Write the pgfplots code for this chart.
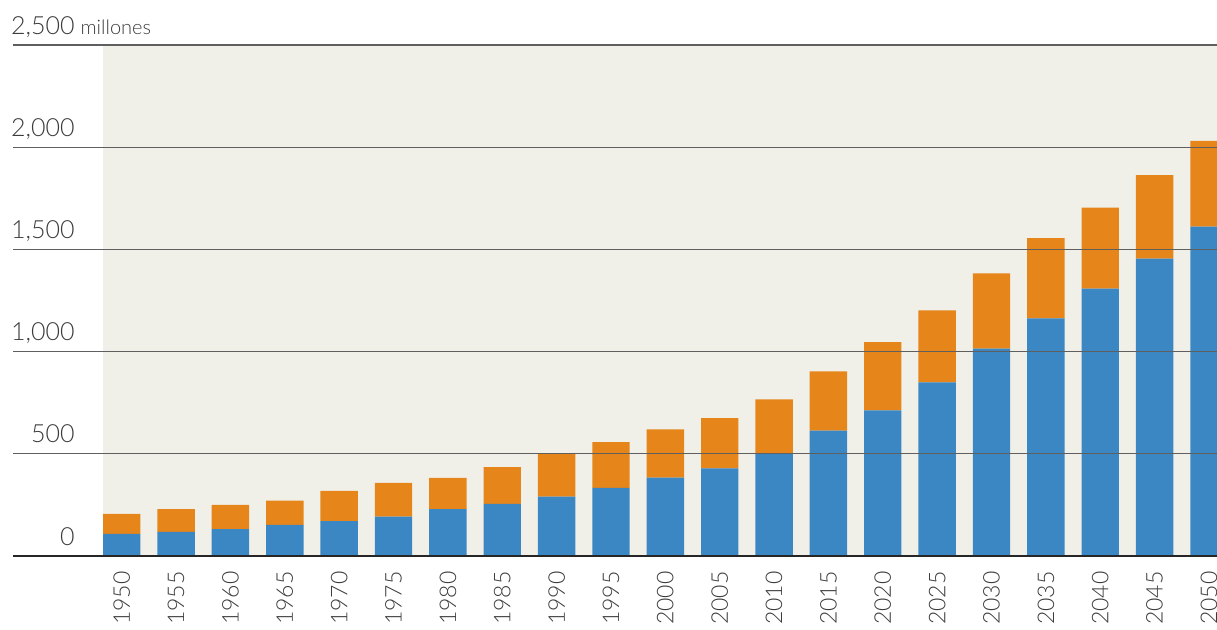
\documentclass[border=0pt]{standalone}
\usepackage{pgfplots}
\pgfplotsset{compat=1.18}
\usepackage{fontspec}
\setmainfont{Lato Light}
\definecolor{beige}{RGB}{241,240,232}
\definecolor{barblue}{RGB}{59,135,196}
\definecolor{barorange}{RGB}{229,133,26}
\definecolor{textgray}{RGB}{60,60,60}
\definecolor{gridgray}{RGB}{95,95,95}
\begin{document}
\begin{tikzpicture}
\useasboundingbox (0,0) rectangle (608.5pt,314.5pt);
\clip (0,0) rectangle (608.5pt,314.5pt);
\fill[beige] (51.5pt,36.5pt) rectangle (608.5pt,292pt);
\begin{axis}[
  at={(6.5pt,36.5pt)}, anchor=south west,
  scale only axis, width=602pt, height=255.5pt,
  xmin=1940, xmax=2050.74, ymin=0, ymax=2500,
  ybar stacked, bar width=3.44,
  axis line style={draw=none},
  major tick length=0pt,
  ytick={500,1000,1500,2000,2500},
  yticklabels={500,{1,000},{1,500},{2,000},{2,500\rlap{\hspace{3pt}\fontsize{10}{10}\selectfont millones}}},
  extra y ticks={0},
  extra y tick labels={0},
  extra y tick style={grid style={draw=black!85, line width=0.8pt}},
  ymajorgrids,
  grid style={draw=gridgray, line width=0.65pt},
  xtick={1950,1955,1960,1965,1970,1975,1980,1985,1990,1995,2000,2005,2010,2015,2020,2025,2030,2035,2040,2045,2050},
  xticklabels={1950,1955,1960,1965,1970,1975,1980,1985,1990,1995,2000,2005,2010,2015,2020,2025,2030,2035,2040,2045,2050},
  xticklabel style={yshift=-7.5pt, rotate=90, anchor=east, inner sep=0pt, font=\fontsize{11.5}{11.5}\selectfont, text=textgray},
  yticklabel style={anchor=base east, inner sep=0pt, xshift=31pt, yshift=5.5pt, font=\fontsize{12.5}{12.5}\selectfont, text=textgray},
  axis on top,
]
\addplot[fill=barblue, draw=none] coordinates {
(1950,108) (1955,118) (1960,131) (1965,152) (1970,171) (1975,193) (1980,229)
(1985,255) (1990,291) (1995,333) (2000,383) (2005,429) (2010,503) (2015,614)
(2020,713) (2025,850) (2030,1014) (2035,1162) (2040,1308) (2045,1455) (2050,1612)};
\addplot[fill=barorange, draw=none] coordinates {
(1950,98) (1955,111) (1960,119) (1965,119) (1970,148) (1975,165) (1980,153)
(1985,180) (1990,209) (1995,224) (2000,236) (2005,246) (2010,263) (2015,289)
(2020,333) (2025,352) (2030,369) (2035,393) (2040,397) (2045,409) (2050,419)};
\end{axis}
\end{tikzpicture}
\end{document}
